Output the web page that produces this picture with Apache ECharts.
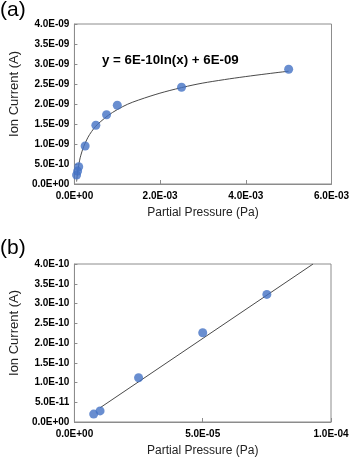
<!DOCTYPE html>
<html>
<head>
<meta charset="utf-8">
<script src="https://cdn.jsdelivr.net/npm/echarts@6/dist/echarts.min.js"></script>
<style>
  html, body { margin: 0; padding: 0; background: #fff; }
  #chart { width: 352px; height: 458px; }
</style>
</head>
<body>
<div id="chart"></div>
<script>
// panel (a): measured points
const pressureA = [5e-5, 7.5e-5, 1e-4, 2.5e-4, 5e-4, 7.5e-4, 1e-3, 2.5e-3, 5e-3]
const currentA = [2.25e-10, 3.22e-10, 4.3e-10, 0.95e-9, 1.47e-9, 1.73e-9, 1.97e-9, 2.42e-9, 2.87e-9]
// panel (a): log trend line
const trendXA = [5e-5, 7.5e-5, 1e-4, 1.5e-4, 2.5e-4, 4e-4, 6e-4, 1e-3, 1.5e-3, 2.5e-3, 3.5e-3, 5e-3]
const trendYA = [0.06e-9, 0.30e-9, 0.47e-9, 0.72e-9, 1.02e-9, 1.31e-9, 1.55e-9, 1.86e-9, 2.10e-9, 2.41e-9, 2.61e-9, 2.82e-9]

// panel (b): low pressure points
const pressureB = [7.5e-6, 1e-5, 2.5e-5, 5e-5, 7.5e-5]
const currentB = [0.2e-10, 0.28e-10, 1.12e-10, 2.26e-10, 3.23e-10]
// panel (b): linear trend line ends
const trendXB = [1.0e-5, 9.3e-5]
const trendYB = [0.36e-10, 4.0e-10]

const equationText = 'y = 6E-10ln(x) + 6E-09'
const xTitle = 'Partial Pressure (Pa)'
const yTitle = 'Ion Current (A)'

const font = 'Arial, "Liberation Sans", sans-serif'
const blue = '#4472C4'
const frame = '#8c8c8c'

function sci (v) {
  let s = v.toExponential(1).toUpperCase()
  return s.replace(/E([+-])(\d)$/, 'E$10$2')
}

function zip (xs, ys) {
  return xs.map((x, i) => [x, ys[i]])
}

function xAxis (idx, max, interval) {
  return {
    gridIndex: idx,
    type: 'value',
    min: 0,
    max: max,
    interval: interval,
    name: xTitle,
    nameLocation: 'middle',
    nameGap: 23,
    nameTextStyle: { fontFamily: font, fontSize: 12, color: '#222' },
    axisLine: { show: true, lineStyle: { color: frame } },
    axisTick: { show: true, inside: true, length: 4, lineStyle: { color: frame } },
    axisLabel: { formatter: sci, fontFamily: font, fontSize: 10, fontWeight: 'bold', color: '#000', margin: 7 },
    splitLine: { show: false },
  }
}

function yAxis (idx, max, interval) {
  return {
    gridIndex: idx,
    type: 'value',
    min: 0,
    max: max,
    interval: interval,
    name: yTitle,
    nameLocation: 'middle',
    nameGap: 50,
    nameTextStyle: { fontFamily: font, fontSize: 13, color: '#222', padding: [0, 0, 0, 20] },
    axisLine: { show: true, lineStyle: { color: frame } },
    axisTick: { show: true, inside: true, length: 3, lineStyle: { color: frame } },
    axisLabel: { formatter: sci, fontFamily: font, fontSize: 10, fontWeight: 'bold', color: '#000', margin: 5 },
    splitLine: { show: false },
  }
}

let option = {
  backgroundColor: '#fff',
  animation: false,
  title: [
    { text: '(a)', left: 0, top: 0, padding: 0, textStyle: { fontFamily: font, fontSize: 21, fontWeight: 'normal', color: '#000' } },
    { text: '(b)', left: 0, top: 238, padding: 0, textStyle: { fontFamily: font, fontSize: 21, fontWeight: 'normal', color: '#000' } },
  ],
  grid: [
    { left: 67, top: 24, width: 265, height: 160, show: true, borderColor: frame, borderWidth: 1 },
    { left: 67, top: 264, width: 264, height: 160, show: true, borderColor: frame, borderWidth: 1 },
  ],
  xAxis: [xAxis(0, 6e-3, 2e-3), xAxis(1, 1e-4, 5e-5)],
  yAxis: [yAxis(0, 4e-9, 5e-10), yAxis(1, 4e-10, 5e-11)],
  graphic: [
    {
      type: 'text',
      left: 102,
      top: 54,
      style: { text: equationText, fontFamily: font, fontSize: 13.3, fontWeight: 'bold', fill: '#000' },
    },
  ],
  series: [
    {
      type: 'line',
      xAxisIndex: 0,
      yAxisIndex: 0,
      data: zip(trendXA, trendYA),
      smooth: 0.4,
      showSymbol: false,
      lineStyle: { color: '#4a4a4a', width: 1 },
      z: 1,
    },
    {
      type: 'scatter',
      xAxisIndex: 0,
      yAxisIndex: 0,
      data: zip(pressureA, currentA),
      symbolSize: 9,
      itemStyle: { color: blue },
      z: 2,
    },
    {
      type: 'line',
      xAxisIndex: 1,
      yAxisIndex: 1,
      data: zip(trendXB, trendYB),
      showSymbol: false,
      lineStyle: { color: '#4a4a4a', width: 1 },
      z: 1,
    },
    {
      type: 'scatter',
      xAxisIndex: 1,
      yAxisIndex: 1,
      data: zip(pressureB, currentB),
      symbolSize: 9,
      itemStyle: { color: blue },
      z: 2,
    },
  ],
}

let myChart = echarts.init(document.getElementById('chart'))
myChart.setOption(option)
</script>
</body>
</html>
